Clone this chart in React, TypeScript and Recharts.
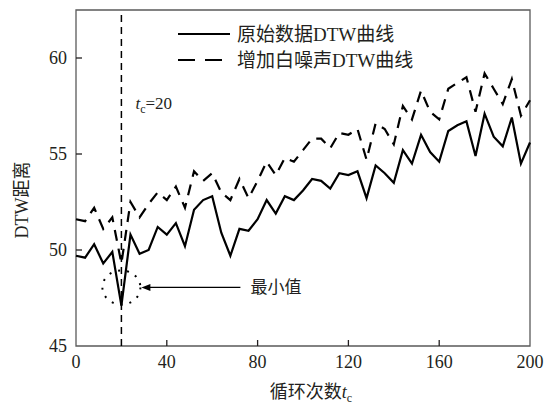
import { Legend, Line, LineChart, ReferenceArea, ReferenceDot, ReferenceLine, XAxis, YAxis } from 'recharts'

// 循环次数 t_c
const cycles = [
  0, 4, 8, 12, 16, 20, 24, 28, 32, 36, 40, 44, 48, 52, 56, 60, 64, 68, 72, 76, 80, 84, 88, 92, 96, 100,
  104, 108, 112, 116, 120, 124, 128, 132, 136, 140, 144, 148, 152, 156, 160, 164, 168, 172, 176, 180,
  184, 188, 192, 196, 200,
]

// 原始数据DTW曲线
const originalDtw = [
  49.7, 49.6, 50.3, 49.3, 49.9, 47.1, 50.8, 49.8, 50.0, 51.2, 50.8, 51.4, 50.2, 52.1, 52.6, 52.8, 50.9,
  49.7, 51.1, 51.0, 51.6, 52.6, 51.9, 52.8, 52.6, 53.1, 53.7, 53.6, 53.2, 54.0, 53.9, 54.1, 52.7, 54.4,
  54.0, 53.5, 55.2, 54.5, 56.0, 55.1, 54.6, 56.2, 56.5, 56.7, 54.9, 57.1, 55.9, 55.4, 56.9, 54.5, 55.6,
]

// 增加白噪声DTW曲线
const noisyDtw = [
  51.6, 51.5, 52.2, 51.1, 51.7, 49.3, 52.5, 51.7, 52.4, 53.0, 52.6, 53.3, 52.2, 54.1, 53.6, 54.0, 53.0,
  52.6, 53.7, 52.7, 53.6, 54.6, 53.9, 54.8, 54.6, 55.2, 55.8, 55.8, 55.3, 56.1, 56.0, 56.3, 54.7, 56.6,
  56.3, 55.5, 57.5, 56.8, 58.3, 57.2, 56.8, 58.4, 58.7, 59.0, 57.2, 59.2, 58.4, 57.6, 58.9, 57.0, 57.8,
]

const seriesNames = ['原始数据DTW曲线', '增加白噪声DTW曲线']
const xTicks = [0, 40, 80, 120, 160, 200]
const yTicks = [45, 50, 55, 60]
const minCycle = 20
const minMarkY = 48.05

const chartData = cycles.map((t, i) => ({ t, original: originalDtw[i], noisy: noisyDtw[i] }))

const font = '"Liberation Serif", "DejaVu Serif", "Noto Sans CJK SC", serif'
const ink = '#231f20'

function XTick({ x, y, payload }: any) {
  return (
    <g>
      {payload.value > 0 && payload.value < 200 && (
        <line x1={x} x2={x} y1={y} y2={y - 6} stroke={ink} strokeWidth={1.3} />
      )}
      <text x={x} y={y + 22} textAnchor="middle" fontSize={18} fill={ink} fontFamily={font}>
        {payload.value}
      </text>
    </g>
  )
}

function YTick({ x, y, payload }: any) {
  return (
    <g>
      {payload.value > 45 && <line x1={x} x2={x + 6} y1={y} y2={y} stroke={ink} strokeWidth={1.3} />}
      <text x={x - 9} y={y + 6} textAnchor="end" fontSize={18} fill={ink} fontFamily={font}>
        {payload.value}
      </text>
    </g>
  )
}

function XLabel({ viewBox }: any) {
  const cx = viewBox.x + viewBox.width / 2 + 8
  return (
    <text x={cx} y={viewBox.y + 52} textAnchor="middle" fontSize={18} fill={ink} fontFamily={font}>
      循环次数
      <tspan fontStyle="italic">t</tspan>
      <tspan fontSize={12} dy={4}>c</tspan>
    </text>
  )
}

function YLabel({ viewBox }: any) {
  const cx = viewBox.x + 22
  const cy = viewBox.y + viewBox.height / 2 + 22
  return (
    <text
      x={cx}
      y={cy}
      transform={`rotate(-90, ${cx}, ${cy})`}
      textAnchor="middle"
      dominantBaseline="central"
      fontSize={18}
      fill={ink}
      fontFamily={font}
    >
      DTW距离
    </text>
  )
}

function TcLabel({ viewBox }: any) {
  return (
    <text x={viewBox.x + 14} y={viewBox.y + 99} fontSize={17} fill={ink} fontFamily={font}>
      <tspan fontStyle="italic">t</tspan>
      <tspan fontSize={12} dy={4}>c</tspan>
      <tspan dy={-4}>=20</tspan>
    </text>
  )
}

function MinMark({ cx, cy }: any) {
  return (
    <g>
      <ellipse cx={cx} cy={cy} rx={19} ry={17} fill="none" stroke="#000" strokeWidth={2} strokeDasharray="2 7" />
      <line x1={cx + 26} x2={cx + 119} y1={cy} y2={cy} stroke="#000" strokeWidth={1.2} />
      <polygon points={`${cx + 20},${cy} ${cx + 29},${cy - 3.5} ${cx + 29},${cy + 3.5}`} fill="#000" />
      <text x={cx + 129} y={cy + 6} fontSize={17} fill={ink} fontFamily={font}>
        最小值
      </text>
    </g>
  )
}

function LegendBox() {
  return (
    <div style={{ fontFamily: font, fontSize: 19, color: ink, lineHeight: 1 }}>
      <div style={{ display: 'flex', alignItems: 'center', height: 26 }}>
        <svg width={52} height={6}>
          <line x1={0} x2={52} y1={3} y2={3} stroke="#000" strokeWidth={2.2} />
        </svg>
        <span style={{ marginLeft: 7 }}>{seriesNames[0]}</span>
      </div>
      <div style={{ display: 'flex', alignItems: 'center', height: 26 }}>
        <svg width={52} height={6}>
          <line x1={0} x2={52} y1={3} y2={3} stroke="#000" strokeWidth={2.2} strokeDasharray="17 10" />
        </svg>
        <span style={{ marginLeft: 7 }}>{seriesNames[1]}</span>
      </div>
    </div>
  )
}

export default function App() {
  return (
    <div style={{ position: 'absolute', left: 0, top: 0, width: 555, height: 409, background: '#fff' }}>
      <LineChart width={555} height={409} data={chartData} margin={{ top: 10, right: 25, bottom: 0, left: 0 }}>
        <ReferenceArea x1={0} x2={200} y1={45} y2={62.5} fill="none" stroke="#5a5a5a" strokeWidth={1.3} />
        <XAxis
          dataKey="t"
          type="number"
          domain={[0, 200]}
          ticks={xTicks}
          height={63}
          axisLine={false}
          tickLine={false}
          tickSize={0}
          tickMargin={0}
          tick={<XTick />}
          label={<XLabel />}
        />
        <YAxis
          type="number"
          domain={[45, 62.5]}
          ticks={yTicks}
          width={76}
          axisLine={false}
          tickLine={false}
          tickSize={0}
          tickMargin={0}
          tick={<YTick />}
          label={<YLabel />}
        />
        <ReferenceLine x={minCycle} stroke="#000" strokeWidth={1.5} strokeDasharray="7 5" label={<TcLabel />} />
        <ReferenceDot x={minCycle} y={minMarkY} shape={<MinMark />} />
        <Legend
          layout="vertical"
          align="center"
          verticalAlign="middle"
          wrapperStyle={{ left: 178, top: 21, width: 280 }}
          content={<LegendBox />}
        />
        <Line
          dataKey="original"
          name={seriesNames[0]}
          stroke="#000"
          strokeWidth={2.2}
          dot={false}
          isAnimationActive={false}
        />
        <Line
          dataKey="noisy"
          name={seriesNames[1]}
          stroke="#000"
          strokeWidth={2.2}
          strokeDasharray="11 8"
          dot={false}
          isAnimationActive={false}
        />
      </LineChart>
    </div>
  )
}
